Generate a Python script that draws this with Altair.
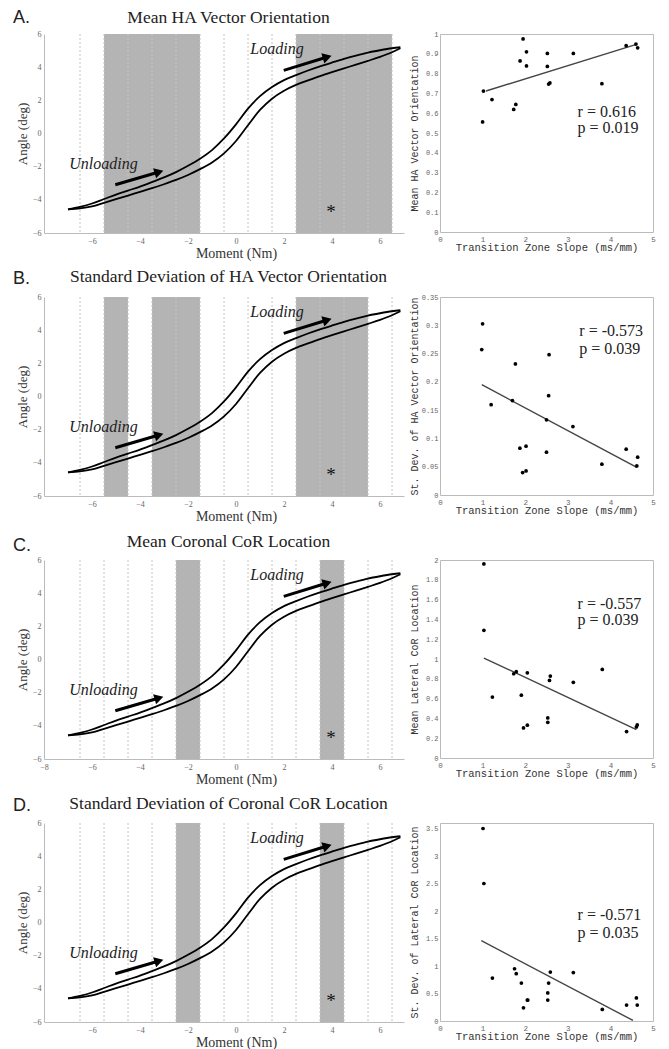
import altair as alt
import pandas as pd

SERIF = "Liberation Serif"
MONO = "Liberation Mono"
SANS = "Liberation Sans"
SHADE = "#b4b4b4"

# ---------------- data: hysteresis loop (Moment Nm, Angle deg) ----------------
upper_moment = [-7.0, -6.5, -6.0, -5.5, -5.0, -4.5, -4.0, -3.5, -3.0, -2.5, -2.0, -1.5, -1.0, -0.5,
                0.0, 0.5, 1.0, 1.5, 2.0, 2.5, 3.0, 3.5, 4.0, 4.5, 5.0, 5.5, 6.0, 6.5, 6.85]
upper_angle = [-4.57, -4.42, -4.22, -3.95, -3.68, -3.44, -3.20, -2.93, -2.65, -2.33, -1.95, -1.52, -1.00, -0.30,
               0.55, 1.50, 2.25, 2.80, 3.22, 3.52, 3.80, 4.05, 4.28, 4.50, 4.70, 4.88, 5.02, 5.14, 5.20]
lower_moment = [-7.0, -6.5, -6.0, -5.5, -5.0, -4.5, -4.0, -3.5, -3.0, -2.5, -2.0, -1.5, -1.0, -0.5,
                0.0, 0.5, 1.0, 1.5, 2.0, 2.5, 3.0, 3.5, 4.0, 4.5, 5.0, 5.5, 6.0, 6.5, 6.85]
lower_angle = [-4.57, -4.52, -4.40, -4.18, -3.96, -3.74, -3.52, -3.30, -3.06, -2.80, -2.50, -2.15, -1.75, -1.20,
               -0.45, 0.50, 1.42, 2.10, 2.58, 2.93, 3.20, 3.46, 3.70, 3.93, 4.15, 4.38, 4.62, 4.90, 5.14]

bin_edges = [-6.5, -5.5, -4.5, -3.5, -2.5, -1.5, -0.5, 0.5, 1.5, 2.5, 3.5, 4.5, 5.5, 6.5]

shade_A_start = [-5.5, 2.5]
shade_A_end = [-1.5, 6.5]
shade_B_start = [-5.5, -3.5, 2.5]
shade_B_end = [-4.5, -1.5, 5.5]
shade_C_start = [-2.5, 3.5]
shade_C_end = [-1.5, 4.5]
shade_D_start = [-2.5, 3.5]
shade_D_end = [-1.5, 4.5]

x_ticks_std = [-6, -4, -2, 0, 2, 4, 6]
x_ticks_c = [-8, -6, -4, -2, 0, 2, 4, 6]
y_ticks_left = [-6, -4, -2, 0, 2, 4, 6]

# ---------------- data: scatter panels ----------------
slope_A = [1.00, 1.02, 1.22, 1.73, 1.78, 1.88, 1.95, 2.03, 2.03, 2.52, 2.52, 2.55, 2.58, 3.13, 3.80, 4.37, 4.60, 4.64]
mean_ha = [0.556, 0.712, 0.669, 0.619, 0.644, 0.864, 0.975, 0.910, 0.839, 0.902, 0.836, 0.747, 0.753, 0.902, 0.749, 0.941, 0.949, 0.930]
fit_A_x = [1.08, 4.63]
fit_A_y = [0.712, 0.949]

slope_B = [1.00, 0.98, 1.20, 1.70, 1.77, 1.875, 1.94, 2.02, 2.02, 2.50, 2.50, 2.55, 2.56, 3.12, 3.80, 4.37, 4.62, 4.64]
sd_ha = [0.3026, 0.257, 0.1596, 0.167, 0.2317, 0.0827, 0.0396, 0.0863, 0.0426, 0.0756, 0.133, 0.1755, 0.248, 0.121, 0.0544, 0.081, 0.0514, 0.0668]
fit_B_x = [0.98, 4.62]
fit_B_y = [0.195, 0.049]

slope_C = [1.03, 1.03, 1.23, 1.73, 1.79, 1.91, 1.96, 2.05, 2.05, 2.53, 2.53, 2.57, 2.59, 3.13, 3.81, 4.38, 4.61, 4.63]
mean_cor = [1.96, 1.29, 0.615, 0.851, 0.872, 0.635, 0.304, 0.331, 0.861, 0.405, 0.361, 0.784, 0.828, 0.764, 0.895, 0.267, 0.314, 0.334]
fit_C_x = [1.03, 4.61]
fit_C_y = [1.01, 0.287]

slope_D = [1.01, 1.03, 1.23, 1.75, 1.79, 1.91, 1.96, 2.05, 2.06, 2.53, 2.53, 2.55, 2.59, 3.13, 3.81, 4.38, 4.61, 4.63]
sd_cor = [3.50, 2.50, 0.78, 0.95, 0.86, 0.69, 0.24, 0.38, 0.38, 0.51, 0.38, 0.69, 0.89, 0.88, 0.21, 0.29, 0.42, 0.29]
fit_D_x = [0.97, 4.53]
fit_D_y = [1.46, 0.01]

x_ticks_right = [0, 1, 2, 3, 4, 5]
y_ticks_A = [0, 0.1, 0.2, 0.3, 0.4, 0.5, 0.6, 0.7, 0.8, 0.9, 1]
y_ticks_B = [0, 0.05, 0.1, 0.15, 0.2, 0.25, 0.3, 0.35]
y_ticks_C = [0, 0.2, 0.4, 0.6, 0.8, 1, 1.2, 1.4, 1.6, 1.8, 2]
y_ticks_D = [0, 0.5, 1, 1.5, 2, 2.5, 3, 3.5]

letters = ["A.", "B.", "C.", "D."]
titles = ["Mean HA Vector Orientation",
          "Standard Deviation of HA Vector Orientation",
          "Mean Coronal CoR Location",
          "Standard Deviation of Coronal CoR Location"]
y_titles_right = ["Mean HA Vector Orientation",
                  "St. Dev. of HA Vector Orientation",
                  "Mean Lateral CoR Location",
                  "St. Dev. of Lateral CoR Location"]
r_texts = ["r = 0.616", "r = -0.573", "r = -0.557", "r = -0.571"]
p_texts = ["p = 0.019", "p = 0.039", "p = 0.039", "p = 0.035"]

# annotation anchor positions (data units)
arrow_start_x = [1.99, -5.03]
arrow_start_y = [3.81, -3.09]
arrow_end_x = [3.80, -3.21]
arrow_end_y = [4.61, -2.32]
dir_label_x = [1.71, -5.52]
dir_label_y = [4.77, -2.17]
dir_labels = ["Loading", "Unloading"]
star_x = [3.96]
star_y = [-4.43]

LW, LH = 360, 199
RW, RH = 213, 198


def left_panel(letter, title, s0, s1, xticks, letter_y, title_y):
    xs = alt.Scale(domain=[-8, 7], nice=False, zero=False)
    ys = alt.Scale(domain=[-6, 6], nice=False, zero=False)
    xaxis = alt.Axis(values=xticks, title="Moment (Nm)", titleFont=SERIF, titleFontSize=14,
                     titleFontWeight="normal", titleColor="#333", titleX=192, titleY=13.5,
                     titleBaseline="top", labelFont=SERIF, labelFontSize=8, labelColor="#666",
                     labelPadding=4, ticks=False, domainColor="#bbb", grid=False,
                     labelFlush=False, labelOverlap=False)
    yaxis = alt.Axis(values=y_ticks_left, title="Angle (deg)", titleFont=SERIF, titleFontSize=13,
                     titleFontWeight="normal", titleColor="#333", titleX=-22,
                     titleBaseline="middle", labelFont=SERIF, labelFontSize=8, labelColor="#666",
                     labelPadding=3, ticks=False, domainColor="#bbb", grid=False,
                     labelFlush=False, labelOverlap=False)

    shade_df = pd.DataFrame({"s0": s0, "s1": s1})
    shade = alt.Chart(shade_df).mark_rect(color=SHADE, opacity=1).encode(
        x=alt.X("s0:Q", scale=xs, axis=xaxis), x2="s1:Q",
        y=alt.datum(6, scale=ys, axis=yaxis), y2=alt.datum(-6))

    edge_df = pd.DataFrame({"e": bin_edges})
    edges = alt.Chart(edge_df).mark_rule(color="#c4c4c4", strokeWidth=1, strokeDash=[2, 2]).encode(
        x=alt.X("e:Q", scale=xs, axis=xaxis))

    n = len(upper_moment)
    curve_df = pd.DataFrame({
        "m": upper_moment + lower_moment,
        "a": upper_angle + lower_angle,
        "c": ["upper"] * n + ["lower"] * n,
        "i": list(range(n)) * 2,
    })
    curves = alt.Chart(curve_df).mark_line(color="black", strokeWidth=1.8,
                                           interpolate="monotone", clip=True).encode(
        x=alt.X("m:Q", scale=xs, axis=xaxis),
        y=alt.Y("a:Q", scale=ys, axis=yaxis),
        detail="c:N", order="i:Q")

    arrow_df = pd.DataFrame({"x0": arrow_start_x, "y0": arrow_start_y,
                             "x1": arrow_end_x, "y1": arrow_end_y})
    shafts = alt.Chart(arrow_df).mark_rule(color="black", strokeWidth=3).encode(
        x=alt.X("x0:Q", scale=xs, axis=xaxis), y=alt.Y("y0:Q", scale=ys, axis=yaxis),
        x2="x1:Q", y2="y1:Q")
    heads = alt.Chart(arrow_df).mark_point(shape="triangle-right", size=110, filled=True,
                                           color="black", opacity=1, angle=343).encode(
        x=alt.X("x1:Q", scale=xs, axis=xaxis), y=alt.Y("y1:Q", scale=ys, axis=yaxis))

    ann_df = pd.DataFrame({"x": dir_label_x, "y": dir_label_y, "t": dir_labels})
    ann = alt.Chart(ann_df).mark_text(font=SERIF, fontSize=16, fontStyle="italic",
                                      align="center", baseline="alphabetic", color="#222").encode(
        x=alt.X("x:Q", scale=xs, axis=xaxis), y=alt.Y("y:Q", scale=ys, axis=yaxis), text="t:N")

    star_df = pd.DataFrame({"x": star_x, "y": star_y, "t": ["*"]})
    star = alt.Chart(star_df).mark_text(font=SERIF, fontSize=19, align="center",
                                        baseline="middle", dy=5, color="#111").encode(
        x=alt.X("x:Q", scale=xs, axis=xaxis), y=alt.Y("y:Q", scale=ys, axis=yaxis), text="t:N")

    lab = alt.Chart(pd.DataFrame({"t": [letter]})).mark_text(
        font=SANS, fontSize=18, align="left", baseline="alphabetic", color="#222").encode(
        x=alt.value(-31), y=alt.value(letter_y), text="t:N")
    ttl = alt.Chart(pd.DataFrame({"t": [title]})).mark_text(
        font=SERIF, fontSize=17.5, align="center", baseline="alphabetic", color="#222").encode(
        x=alt.value(184.5), y=alt.value(title_y), text="t:N")

    return alt.layer(shade, edges, curves, shafts, heads, ann, star, lab, ttl).properties(
        width=LW, height=LH, view=alt.ViewBackground(stroke="transparent"))


def right_panel(xv, yv, fx, fy, ydom, yticks, ytitle, rtxt, ptxt, rx, ry, py):
    xs = alt.Scale(domain=[0, 5], nice=False, zero=False)
    ys = alt.Scale(domain=ydom, nice=False, zero=False)
    xaxis = alt.Axis(values=x_ticks_right, title="Transition Zone Slope (ms/mm)",
                     titleFont=MONO, titleFontSize=10.5, titleFontWeight="normal",
                     titleColor="#333", titleY=10, titleBaseline="top",
                     labelFont=MONO, labelFontSize=7.5, labelColor="#666", labelPadding=3,
                     ticks=False, domain=False, grid=False, labelFlush=False, labelOverlap=False)
    yaxis = alt.Axis(values=yticks, format="~g", title=ytitle, titleFont=MONO,
                     titleFontSize=10, titleFontWeight="normal", titleColor="#333",
                     titleX=-25.5, titleBaseline="middle",
                     labelFont=MONO, labelFontSize=7, labelColor="#666", labelPadding=2,
                     ticks=False, domain=False, grid=False, labelFlush=False, labelOverlap=False)
    df = pd.DataFrame({"s": xv, "v": yv})
    pts = alt.Chart(df).mark_circle(size=14, color="black", opacity=1).encode(
        x=alt.X("s:Q", scale=xs, axis=xaxis), y=alt.Y("v:Q", scale=ys, axis=yaxis))
    fit = alt.Chart(pd.DataFrame({"fx": fx, "fy": fy})).mark_line(
        color="#444", strokeWidth=1.4).encode(
        x=alt.X("fx:Q", scale=xs, axis=xaxis), y=alt.Y("fy:Q", scale=ys, axis=yaxis))
    tdf = pd.DataFrame({"x": [rx, rx], "y": [ry, py], "t": [rtxt, ptxt]})
    txt = alt.Chart(tdf).mark_text(font=SERIF, fontSize=16, align="left",
                                   baseline="middle", color="#222").encode(
        x=alt.X("x:Q", scale=xs, axis=xaxis), y=alt.Y("y:Q", scale=ys, axis=yaxis), text="t:N")
    return alt.layer(fit, pts, txt).properties(width=RW, height=RH)


panels = [
    left_panel(letters[0], titles[0], shade_A_start, shade_A_end, x_ticks_std, -11, -11),
    right_panel(slope_A, mean_ha, fit_A_x, fit_A_y, [0, 1], y_ticks_A, y_titles_right[0],
                r_texts[0], p_texts[0], 3.23, 0.607, 0.527),
    left_panel(letters[1], titles[1], shade_B_start, shade_B_end, x_ticks_std, -13.3, -15),
    right_panel(slope_B, sd_ha, fit_B_x, fit_B_y, [0, 0.35], y_ticks_B, y_titles_right[1],
                r_texts[1], p_texts[1], 3.27, 0.2896, 0.258),
    left_panel(letters[2], titles[2], shade_C_start, shade_C_end, x_ticks_c, -9, -13),
    right_panel(slope_C, mean_cor, fit_C_x, fit_C_y, [0, 2], y_ticks_C, y_titles_right[2],
                r_texts[2], p_texts[2], 3.23, 1.56, 1.395),
    left_panel(letters[3], titles[3], shade_D_start, shade_D_end, x_ticks_std, -12.3, -14),
    right_panel(slope_D, sd_cor, fit_D_x, fit_D_y, [0, 3.6], y_ticks_D, y_titles_right[3],
                r_texts[3], p_texts[3], 3.23, 1.935, 1.60),
]

chart = alt.concat(*panels, columns=2, spacing={"row": 64, "column": 36},
                   bounds="flush", align="each").properties(
    padding={"left": 4, "top": 0, "right": 0, "bottom": 0},
    background="white",
).configure_view(stroke="#bbb", strokeWidth=1)

chart.save("out.html", embed_options={"renderer": "svg", "actions": False})
